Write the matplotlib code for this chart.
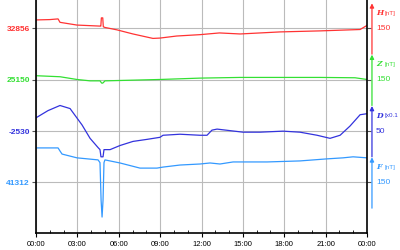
import matplotlib
matplotlib.use("Agg")
import matplotlib.pyplot as plt

# Zeitachse in Stunden
hours_H = [0, 1.0, 1.6, 1.74, 2.97, 4.64, 4.7, 4.74, 4.84, 4.88, 5.0, 5.87, 7.03,
           8.48, 8.99, 10.2, 11.9, 13.3, 14.8, 17.7, 20.6, 23.5, 24]
H = [32881, 32882, 32884, 32874, 32866, 32863, 32863, 32887, 32887, 32861, 32859,
     32852, 32840, 32827, 32828, 32834, 32838, 32843, 32840, 32846, 32849, 32853, 32865]

hours_Z = [0, 1.74, 2.97, 3.92, 4.64, 4.75, 4.79, 4.86, 5.0, 7.03, 8.99, 11.9,
           14.8, 17.7, 20.6, 23.13, 24]
Z = [25162, 25159, 25151, 25147, 25147, 25141, 25140, 25141, 25147, 25149, 25151,
     25155, 25157, 25157, 25157, 25156, 25151]

hours_D = [0, 0.87, 1.74, 2.47, 3.34, 3.92, 4.5, 4.64, 4.71, 4.86, 4.93, 5.37, 6.09,
           7.03, 8.05, 8.99, 9.21, 10.44, 11.89, 12.4, 12.76, 13.13, 15.01, 16.24,
           17.91, 19.14, 20.38, 21.32, 22.05, 22.77, 23.5, 24]
D = [-2517, -2510, -2505, -2508, -2524, -2537, -2546, -2548, -2555, -2555, -2548,
     -2548, -2544, -2540, -2538, -2536, -2534, -2533, -2534, -2534, -2529, -2528,
     -2531, -2531, -2530, -2531, -2534, -2537, -2534, -2525, -2514, -2513]

hours_F = [0, 1.6, 1.74, 1.89, 2.97, 4.5, 4.64, 4.72, 4.79, 4.86, 4.93, 5.0, 6.09,
           7.54, 8.77, 9.21, 10.44, 11.89, 12.62, 13.34, 14.29, 16.75, 19.14, 21.1,
           22.26, 22.99, 24]
F = [41413, 41413, 41404, 41395, 41384, 41378, 41370, 41260, 41211, 41260, 41370,
     41378, 41369, 41354, 41354, 41357, 41363, 41366, 41369, 41366, 41372, 41372,
     41375, 41381, 41384, 41387, 41384]

# Basiswerte, Skalen (pro Gitterabstand) und Beschriftungen
names = ["H", "Z", "D", "F"]
bases = [32856, 25150, -2530, 41312]
scales = [150, 150, 50, 150]
units = ["[nT]", "[nT]", "[x0.1", "[nT]"]
colors = ["#ff3333", "#33e033", "#3333dd", "#3399ff"]
levels = [4, 3, 2, 1]
tick_labels_x = ["00:00", "03:00", "06:00", "09:00", "12:00", "15:00", "18:00", "21:00", "00:00"]

series = [(hours_H, H), (hours_Z, Z), (hours_D, D), (hours_F, F)]

fig = plt.figure(figsize=(4, 2.5), dpi=100)
ax = fig.add_axes([0.09, 0.0668, 0.8275, 0.9332])

for (t, v), b, s, lev, c in zip(series, bases, scales, levels, colors):
    ax.plot(t, [lev + (x - b) / s for x in v], color=c, lw=0.9)

ax.set_xlim(0, 24)
ax.set_ylim(0.01, 4.555)

ax.set_xticks(range(0, 25, 3))
ax.set_xticklabels(tick_labels_x, fontsize=5.5, family="Liberation Sans")
ax.set_xticks(range(0, 25), minor=True)
ax.tick_params(axis="x", which="major", direction="out", length=3, pad=2.5)
ax.tick_params(axis="x", which="minor", direction="in", length=2)

ax.set_yticks(levels)
ax.set_yticklabels([str(b) for b in bases], fontsize=6, family="Liberation Sans",
                   fontweight="bold")
for lab, c in zip(ax.get_yticklabels(), colors):
    lab.set_color(c)
ax.tick_params(axis="y", direction="out", length=3, pad=1.5, right=True,
               color="#555555")

ax.grid(True, color="#bbbbbb", lw=0.8)
ax.spines["top"].set_visible(False)
for sp in ["left", "right", "bottom"]:
    ax.spines[sp].set_linewidth(1.2)

# Skalenpfeile rechts
xa = 24.36
xt = 24.65
for name, unit, s, lev, c in zip(names, units, scales, levels, colors):
    ax.annotate("", xy=(xa, lev + 0.49), xytext=(xa, lev - 0.5),
                xycoords="data", annotation_clip=False,
                arrowprops=dict(arrowstyle="-|>", color=c, lw=0.9,
                                mutation_scale=6, shrinkA=0, shrinkB=0))
    ax.text(xt, lev + 0.30, name, color=c, fontsize=5.5, family="DejaVu Serif",
            fontweight="bold", style="italic", va="center", ha="left", clip_on=False)
    ax.text(xt + 0.62, lev + 0.30, unit, color=c, fontsize=4.5, family="Liberation Sans",
            va="center", ha="left", clip_on=False)
    ax.text(xt, lev, str(s), color=c, fontsize=6, family="Liberation Sans",
            va="center", ha="left", clip_on=False)

fig.savefig("out.png", dpi=100)
